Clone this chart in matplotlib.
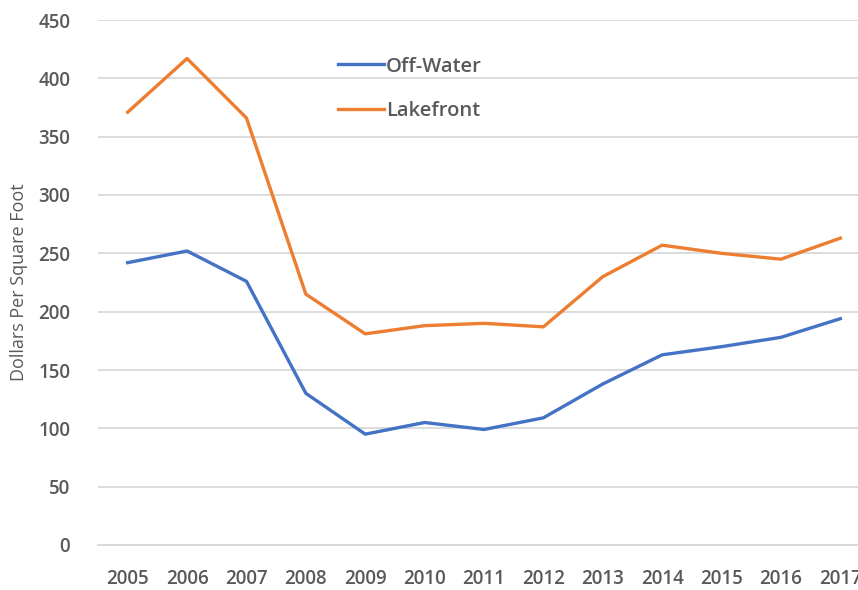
import matplotlib.pyplot as plt

years = ["2005", "2006", "2007", "2008", "2009", "2010", "2011",
         "2012", "2013", "2014", "2015", "2016", "2017"]
off_water = [242, 252, 226, 130, 95, 105, 99, 109, 138, 163, 170, 178, 194]
lakefront = [371, 417, 366, 215, 181, 188, 190, 187, 230, 257, 250, 245, 263]
y_ticks = [0, 50, 100, 150, 200, 250, 300, 350, 400, 450]

plt.rcParams['font.family'] = ['Open Sans', 'DejaVu Sans']
plt.rcParams['font.weight'] = 'semibold'

fig = plt.figure(figsize=(8.58, 5.9), dpi=100)
# axes runs past the right edge, so the last label gets clipped like the original
ax = fig.add_axes([98 / 858, 45 / 590, 772 / 858, 525 / 590])

x = list(range(len(years)))
ax.plot(x, off_water, color="#4472C4", lw=2.4, label="Off-Water", solid_joinstyle="round")
ax.plot(x, lakefront, color="#ED7D31", lw=2.4, label="Lakefront", solid_joinstyle="round")

ax.set_xlim(-0.5, len(years) - 0.5)
ax.set_ylim(0, 450)
ax.set_yticks(y_ticks)
ax.set_xticks(x)
ax.set_xticklabels(years)
ax.grid(axis="y", color="#d9d9d9", lw=1.3)
ax.set_axisbelow(True)
for s in ["top", "right", "left"]:
    ax.spines[s].set_visible(False)
ax.spines["bottom"].set_color("#d9d9d9")
ax.spines["bottom"].set_linewidth(1.3)
ax.tick_params(axis="both", length=0, labelsize=13.5, labelcolor="#595959")
ax.tick_params(axis="x", pad=17)
ax.tick_params(axis="y", pad=20)

ax.set_ylabel("Dollars Per Square Foot", fontsize=13, color="#595959", labelpad=7)

ax.legend(loc="upper left", bbox_to_anchor=(0.287, 0.965), frameon=False,
          fontsize=14.5, labelcolor="#595959", handlelength=2.3,
          handletextpad=0.1, labelspacing=1.2)

fig.savefig("out.png", dpi=100)
